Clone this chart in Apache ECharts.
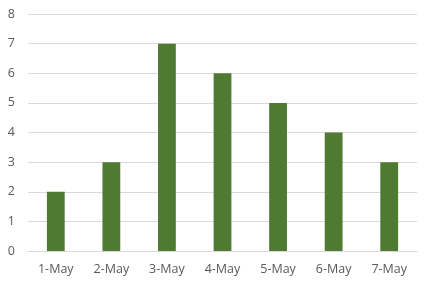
<!DOCTYPE html>
<html><head><meta charset="utf-8">
<script src="https://cdn.jsdelivr.net/npm/echarts@6/dist/echarts.min.js"></script>
<style>html,body{margin:0;padding:0;background:#fff}#c{width:430px;height:285px}</style>
</head><body><div id="c"></div>
<script>
const categories = ['1-May','2-May','3-May','4-May','5-May','6-May','7-May'];
const values = [2,3,7,6,5,4,3];
const chart = echarts.init(document.getElementById('c'));
const font = '"Open Sans", "Noto Sans", sans-serif';
chart.setOption({
  animation:false,
  grid:{left:28,right:13,top:14,bottom:34,containLabel:false},
  xAxis:{type:'category',data:categories,
    axisLine:{show:true,lineStyle:{color:'#d9d9d9'}},axisTick:{show:false},
    axisLabel:{color:'#595959',fontSize:12.5,fontFamily:font,margin:12}},
  yAxis:{type:'value',min:0,max:8,interval:1,
    axisLine:{show:false},axisTick:{show:false},
    splitLine:{lineStyle:{color:'#d9d9d9'}},
    axisLabel:{color:'#595959',fontSize:12.5,fontFamily:font,margin:13}},
  series:[{type:'bar',data:values,barWidth:'32%',itemStyle:{color:'#4e7a32'}}]
});
</script></body></html>
